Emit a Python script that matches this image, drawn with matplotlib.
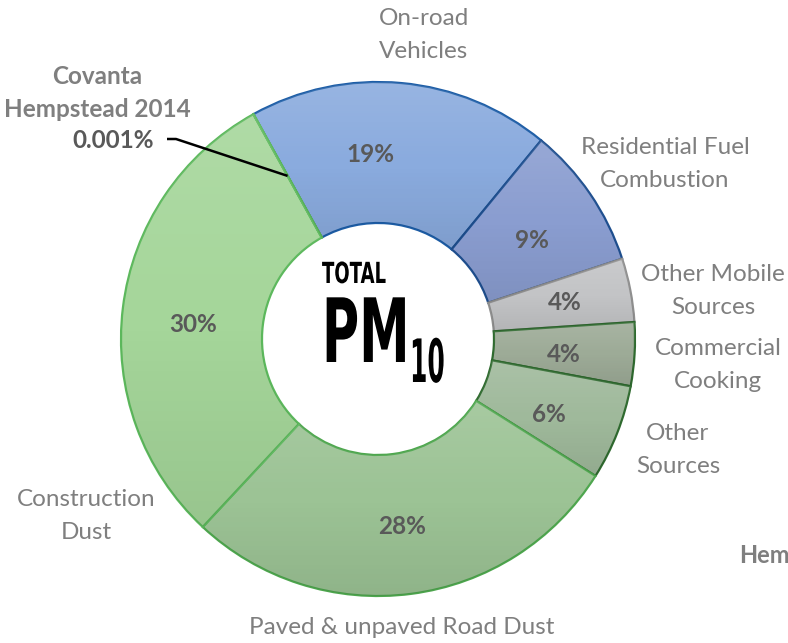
import numpy as np
import matplotlib
matplotlib.use('Agg')
import matplotlib.pyplot as plt
from matplotlib.patheffects import AbstractPathEffect
from matplotlib.transforms import Affine2D

# ---------------- data ----------------
categories = ['On-road\nVehicles', 'Residential Fuel\nCombustion', 'Other Mobile\nSources',
              'Commercial\nCooking', 'Other\nSources', 'Paved & unpaved Road Dust',
              'Construction\nDust', 'Covanta\nHempstead 2014']
values = [19, 9, 4, 4, 6, 28, 30, 0.001]

# ---------------- style ----------------
face_colors = ['#8aabde', '#8a9dd0', '#c3c4c6', '#9dab97', '#9fb99b', '#9cc395', '#a5d69a', '#a5d69a']
edge_colors = ['#1d5da6', '#1f4f8f', '#8f8f8f', '#2f6a2f', '#2f6a2f', '#4ea64e', '#5cb85c', '#5cb85c']
label_gray = '#7f7f7f'
pct_gray = '#595959'
FONT = ['Lato', 'DejaVu Sans']
FS = 17.5
LS = 1.66


class Stretch(AbstractPathEffect):
    """Scale glyph outlines about a display-space anchor point."""
    def __init__(self, sx, sy, x0, y0):
        super().__init__()
        self.sx, self.sy, self.x0, self.y0 = sx, sy, x0, y0

    def draw_path(self, renderer, gc, tpath, affine, rgbFace=None):
        aff = affine + (Affine2D().translate(-self.x0, -self.y0)
                        .scale(self.sx, self.sy).translate(self.x0, self.y0))
        renderer.draw_path(gc, tpath, aff, rgbFace)


W, H = 788, 643
fig = plt.figure(figsize=(W / 100, H / 100), dpi=100)
ax = fig.add_axes([0, 0, 1, 1])

cx, cy = 378, H - 339
R, r = 257, 116

wedges, _ = ax.pie(values, startangle=119, counterclock=False, radius=R, center=(cx, cy),
                   colors=face_colors,
                   wedgeprops=dict(width=R - r, linewidth=1.6))
for w, ec in zip(wedges, edge_colors):
    w.set_edgecolor(ec)

# subtle vertical shading in each wedge
grad = np.zeros((100, 1, 4))
t = np.linspace(0, 1, 100)
grad[:, 0, :3] = np.where(t[:, None] < 0.5, 1.0, 0.0)
grad[:, 0, 3] = np.where(t < 0.5, 0.12 * (0.5 - t) * 2, 0.08 * (t - 0.5) * 2)
for w in wedges[:-1]:
    ext = w.get_path().get_extents()
    im = ax.imshow(grad, extent=(ext.x0, ext.x1, ext.y0, ext.y1), origin='upper',
                   aspect='auto', interpolation='bilinear', zorder=w.get_zorder() + 0.1)
    im.set_clip_path(w)

ax.set_xlim(0, W)
ax.set_ylim(0, H)
ax.axis('off')

# percentage labels inside the ring
pct_pos = [(370, 155), (532, 240), (565, 302), (564, 355), (549, 415), (402, 527), (193, 325)]
for v, (px, py) in zip(values[:-1], pct_pos):
    ax.text(px, H - py, f'{v:g}%', ha='center', va='center', fontsize=FS,
            fontweight='bold', color=pct_gray, family=FONT, zorder=5)

# outside category labels
cat_pos = [(424, 35), (665, 164), (713, 291), (718, 365), (678, 450), (402, 627), (86, 516)]
for lab, (px, py) in zip(categories[:-1], cat_pos):
    ax.text(px, H - py, lab, ha='center', va='center', fontsize=FS, color=label_gray,
            family=FONT, linespacing=LS, zorder=5)

# Covanta callout
ax.text(97, H - 93, categories[-1], ha='center', va='center', fontsize=FS,
        fontweight='bold', color=label_gray, family=FONT, linespacing=1.55)
ax.text(113, H - 141, f'{values[-1]:g}%', ha='center', va='center', fontsize=FS,
        fontweight='bold', color=pct_gray, family=FONT)
cw = wedges[-1]
theta = np.deg2rad((cw.theta1 + cw.theta2) / 2)
rm = (R + r) / 2
ex, ey = cx + rm * np.cos(theta), cy + rm * np.sin(theta)
ax.plot([167, 176, ex], [H - 139, H - 139, ey], color='black', lw=1.8, zorder=6,
        solid_capstyle='butt')

# partial label visible at the right edge of the reference
ax.text(739, H - 563, 'Hem', ha='left', va='baseline', fontsize=17,
        fontweight='bold', color=label_gray, family=FONT)

# centre title (condensed lettering)
CFONT = ['DejaVu Sans']
ax.text(322, H - 283, 'TOTAL', ha='left', va='baseline', fontsize=13, fontweight='bold',
        family=CFONT, color='black', zorder=6, path_effects=[Stretch(1.0, 1.61, 322, H - 283)])
ax.text(322, H - 362, 'PM', ha='left', va='baseline', fontsize=36.5, fontweight='bold',
        family=CFONT, color='black', zorder=6, path_effects=[Stretch(1.0, 1.75, 322, H - 362)])
ax.text(410, H - 382, '10', ha='left', va='baseline', fontsize=18, fontweight='bold',
        family=CFONT, color='black', zorder=6, path_effects=[Stretch(1.0, 2.39, 410, H - 382)])

fig.savefig('out.png', dpi=100)
